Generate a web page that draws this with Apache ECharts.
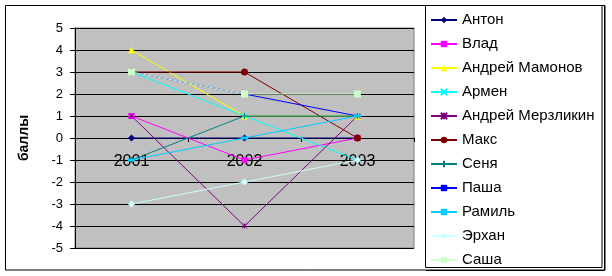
<!DOCTYPE html>
<html><head><meta charset="utf-8">
<script src="https://cdn.jsdelivr.net/npm/echarts@6/dist/echarts.min.js"></script>
<style>html,body{margin:0;padding:0;background:#fff}#c{width:612px;height:276px}</style>
</head><body><div id="c"></div>
<script>
const categories = ['2001', '2002', '2003'];
const names = ['Антон', 'Влад', 'Андрей Мамонов', 'Армен', 'Андрей Мерзликин', 'Макс', 'Сеня', 'Паша', 'Рамиль', 'Эрхан', 'Саша'];
const anton = [0, 0, 0];
const vlad = [1, -1, 0];
const mamonov = [4, 1, 1];
const armen = [3, 1, -1];
const merzlikin = [1, -4, 1];
const maks = [3, 3, 0];
const senya = [-1, 1, 1];
const pasha = [3, 2, 1];
const ramil = [-1, 0, 1];
const erkhan = [-3, -2, -1];
const sasha = [3, 2, 2];
const yTicks = [-5, -4, -3, -2, -1, 0, 1, 2, 3, 4, 5];

const values = [anton, vlad, mamonov, armen, merzlikin, maks, senya, pasha, ramil, erkhan, sasha];
const colors = ['#000080', '#FF00FF', '#FFFF00', '#00FFFF', '#800080', '#800000', '#008080', '#0000FF', '#00CCFF', '#CCFFFF', '#CCFFCC'];
const X = 'path://M0,0L10,10M10,0L0,10';
const STAR = 'path://M0,0L10,10M10,0L0,10M5,0L5,10';
const PLUS = 'path://M5,0L5,10M0,5L10,5';
const symbols = ['diamond', 'rect', 'triangle', X, STAR, 'circle', PLUS, 'rect', 'rect', 'diamond', 'rect'];
const sizes = [7, 6, 7, 5, 5, 7, 6, [5, 2], [7, 3], 7, 7];
const stroked = [false, false, false, true, true, false, true, false, false, false, false];

const series = names.map((n, i) => ({
  name: n, type: 'line', data: values[i],
  symbol: symbols[i], symbolSize: sizes[i], showSymbol: true,
  lineStyle: { color: colors[i], width: 1 },
  itemStyle: stroked[i] ? { color: colors[i], borderColor: colors[i], borderWidth: 1 } : { color: colors[i] },
  emphasis: { disabled: true },
  animation: false
}));

const chart = echarts.init(document.getElementById('c'), null, { renderer: 'canvas' });
chart.setOption({
  animation: false,
  color: colors,
  grid: { left: 75, top: 28, width: 339, height: 220, show: true, backgroundColor: '#C0C0C0', borderColor: '#808080', borderWidth: 1 },
  xAxis: {
    type: 'category', data: categories, boundaryGap: true, offset: -110,
    axisLine: { onZero: false, lineStyle: { color: '#000', width: 1 } },
    axisTick: { show: true, alignWithLabel: false, length: 4, inside: false, lineStyle: { color: '#000' } },
    axisLabel: { fontFamily: 'Liberation Sans', fontSize: 16, color: '#000', margin: 16 },
    splitLine: { show: false }
  },
  yAxis: {
    type: 'value', min: -5, max: 5, interval: 1,
    name: 'баллы', nameLocation: 'middle', nameGap: 44, nameRotate: 90,
    nameTextStyle: { fontFamily: 'Liberation Sans', fontSize: 14, fontWeight: 'bold', color: '#000' },
    axisLine: { show: true, lineStyle: { color: '#000', width: 1 } },
    axisTick: { show: true, length: 5, lineStyle: { color: '#000' } },
    axisLabel: { fontFamily: 'Liberation Sans', fontSize: 13, color: '#000', margin: 12,
      formatter: v => yTicks.includes(v) ? String(v) : '' },
    splitLine: { show: true, lineStyle: { color: '#000', width: 1 } }
  },
  legend: {
    orient: 'vertical', left: 430, top: 12, itemWidth: 26, itemHeight: 8, itemGap: 8, padding: 0,
    textStyle: { fontFamily: 'Liberation Sans', fontSize: 15, lineHeight: 16, color: '#000', padding: [0, 0, 0, 0] },
    data: names, selectedMode: false
  },
  graphic: [
    { type: 'rect', shape: { x: 5.5, y: 5.5, width: 599.5, height: 264.5 }, style: { fill: null, stroke: '#000', lineWidth: 1 }, silent: true, z: -1 },
    { type: 'rect', shape: { x: 425.5, y: 5.5, width: 176.5, height: 262 }, style: { fill: null, stroke: '#000', lineWidth: 1 }, silent: true, z: -1 },
    { type: 'polyline', shape: { points: [[604.5, 5], [604.5, 270.5], [426, 270.5]] }, style: { fill: null, stroke: '#000', lineWidth: 1 }, silent: true, z: -1 }
  ],
  series: series
});
</script></body></html>
